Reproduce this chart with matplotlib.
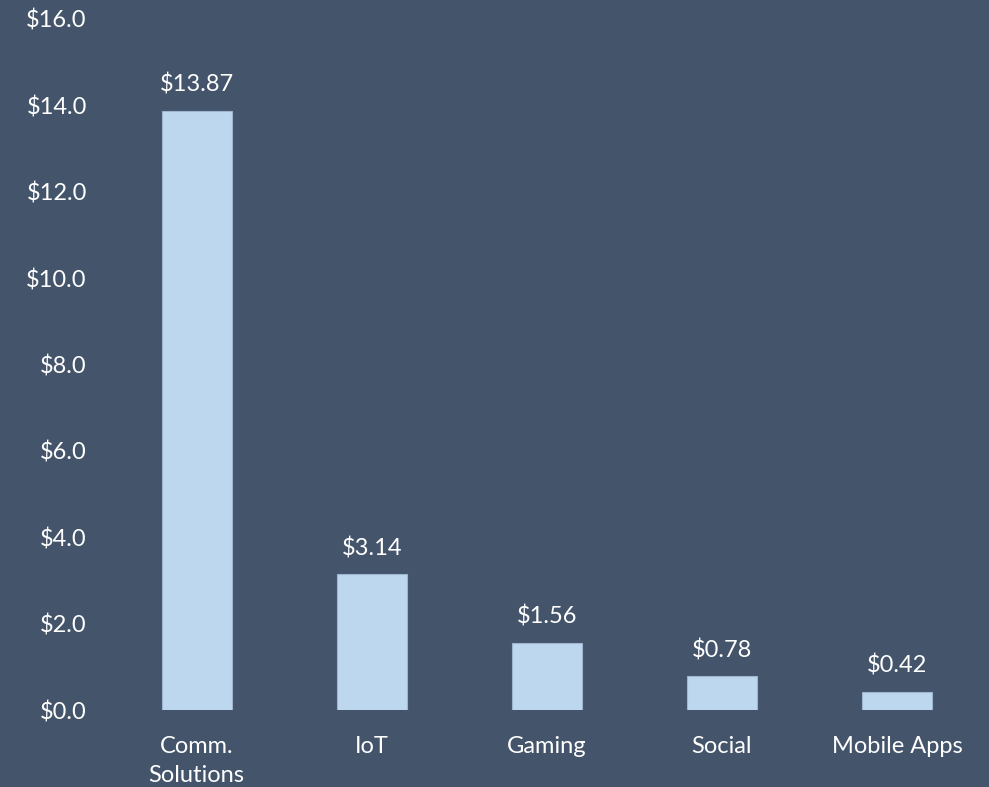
import matplotlib.pyplot as plt
from matplotlib.ticker import FuncFormatter

categories = ["Comm.\nSolutions", "IoT", "Gaming", "Social", "Mobile Apps"]
values = [13.87, 3.14, 1.56, 0.78, 0.42]
yticks = [0, 2, 4, 6, 8, 10, 12, 14, 16]

bg = "#44546A"
bar_color = "#BDD7EE"
text_color = "white"

plt.rcParams['font.family'] = ['Lato', 'DejaVu Sans']

fig = plt.figure(figsize=(9.89, 7.87), dpi=100, facecolor=bg)
ax = fig.add_axes([0.1102, 0.0978, 0.8853, 0.8781])
ax.set_facecolor(bg)

x = range(len(categories))
bars = ax.bar(x, values, width=0.4, color=bar_color, edgecolor="#9DB5D0", linewidth=0.8)

for rect, v in zip(bars, values):
    ax.annotate(f"${v:.2f}", (rect.get_x() + rect.get_width() / 2, v),
                xytext=(0, 11), textcoords="offset points",
                ha="center", va="bottom", color=text_color, fontsize=17)

ax.set_xlim(-0.5, len(categories) - 0.5)
ax.set_ylim(0, 16)
ax.set_yticks(yticks)
ax.yaxis.set_major_formatter(FuncFormatter(lambda v, p: f"${v:.1f}"))
ax.set_xticks(list(x))
ax.set_xticklabels(categories, linespacing=1.45)

ax.tick_params(axis="y", length=0, pad=16, labelsize=17, labelcolor=text_color)
ax.tick_params(axis="x", length=0, pad=19, labelsize=17, labelcolor=text_color)
for s in ax.spines.values():
    s.set_visible(False)

fig.savefig("out.png", dpi=100, facecolor=bg)
